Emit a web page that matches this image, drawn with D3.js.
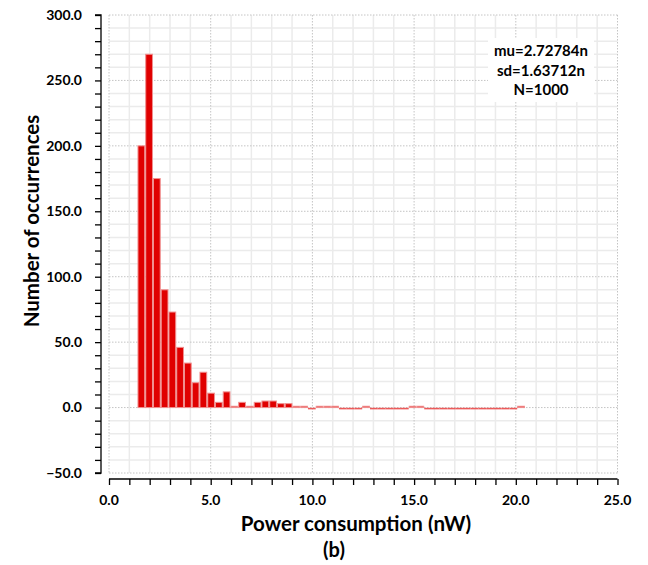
<!DOCTYPE html>
<html>
<head>
<meta charset="utf-8">
<script src="https://cdn.jsdelivr.net/npm/d3@7"></script>
<style>
  html, body { margin: 0; padding: 0; background: #fff; }
  svg { display: block; }
  text { font-family: Lato, "Open Sans", sans-serif; font-weight: 700; fill: #000; }
</style>
</head>
<body>
<svg id="chart" width="648" height="565"></svg>
<script>
// ---- data ----
const binMin = 1.40;     // nW, left edge of first bin
const binMax = 20.45;    // nW, right edge of last bin
const counts = [200, 270, 175, 90, 73, 46, 34, 19, 27, 11,
                4, 12, 1, 4, 1, 4, 5, 5, 3, 3,
                1, 1, 0, 1, 1, 1, 0, 0, 0, 1,
                0, 0, 0, 0, 0, 1, 1, 0, 0, 0,
                0, 0, 0, 0, 0, 0, 0, 0, 0, 1];
const xTicks = [0, 5, 10, 15, 20, 25];
const yTicks = [-50, 0, 50, 100, 150, 200, 250, 300];
const statsLines = ["mu=2.72784n", "sd=1.63712n", "N=1000"];
const xTitle = "Power consumption (nW)";
const yTitle = "Number of occurrences";
const caption = "(b)";

// ---- layout ----
const svg = d3.select("#chart");
const plot = { left: 109, right: 617.5, top: 15, bottom: 473 };
const x = d3.scaleLinear().domain([0, 25]).range([plot.left, plot.right]);
const y = d3.scaleLinear().domain([-50, 300]).range([plot.bottom, plot.top]);

const binW = (binMax - binMin) / counts.length;
const bins = counts.map((c, i) => ({ x0: binMin + i * binW, x1: binMin + (i + 1) * binW, c }));

// grid
const g = svg.append("g");
const minorX = d3.range(0, 25.001, 1).filter(v => v % 5 !== 0);
const minorY = d3.range(-50, 300.001, 10).filter(v => v % 50 !== 0);
g.selectAll(".mx").data(minorX).join("line")
  .attr("x1", d => x(d)).attr("x2", d => x(d))
  .attr("y1", plot.top).attr("y2", plot.bottom)
  .attr("stroke", "#ebebeb").attr("stroke-width", 1.5);
g.selectAll(".my").data(minorY).join("line")
  .attr("y1", d => y(d)).attr("y2", d => y(d))
  .attr("x1", plot.left).attr("x2", plot.right)
  .attr("stroke", "#ebebeb").attr("stroke-width", 1.5);
g.selectAll(".MX").data(d3.range(0, 25.001, 5)).join("line")
  .attr("x1", d => x(d)).attr("x2", d => x(d))
  .attr("y1", plot.top).attr("y2", plot.bottom)
  .attr("stroke", "#c4c4c4").attr("stroke-width", 1).attr("stroke-dasharray", "1.5,1.5");
g.selectAll(".MY").data(yTicks).join("line")
  .attr("y1", d => y(d)).attr("y2", d => y(d))
  .attr("x1", plot.left).attr("x2", plot.right)
  .attr("stroke", "#c4c4c4").attr("stroke-width", 1).attr("stroke-dasharray", "1.5,1.5");

// bars
const barG = svg.append("g");
barG.selectAll("rect").data(bins.filter(d => d.c > 0)).join("rect")
  .attr("x", d => x(d.x0) + 0.5)
  .attr("width", d => x(d.x1) - x(d.x0) - 1)
  .attr("y", d => y(d.c))
  .attr("height", d => y(0) - y(d.c))
  .attr("fill", "#e00000")
  .attr("stroke", "#f09090")
  .attr("stroke-width", 1);
// empty bins show only their outline on the baseline
barG.selectAll("line").data(bins.filter(d => d.c === 0)).join("line")
  .attr("x1", d => x(d.x0)).attr("x2", d => x(d.x1))
  .attr("y1", y(0) + 1).attr("y2", y(0) + 1)
  .attr("stroke", "#ec5a5a").attr("stroke-width", 1.6);

// stats box
const boxCx = 541;
svg.append("rect").attr("x", 488).attr("y", 38).attr("width", 106).attr("height", 64).attr("fill", "#fff");
svg.append("g").selectAll("text").data(statsLines).join("text")
  .attr("x", boxCx).attr("y", (d, i) => 56 + i * 19.5)
  .attr("text-anchor", "middle").attr("font-size", 15)
  .text(d => d);

// y axis
const yAxis = d3.axisLeft(y).tickValues(d3.range(-50, 300.001, 10)).tickSize(6).tickFormat("");
const ya = svg.append("g").attr("transform", "translate(101,0)").call(yAxis);
ya.selectAll("path, line").attr("stroke", "#000").attr("stroke-width", 1.3);
ya.select(".domain").attr("d", `M-6,${y(300)}H0V${y(-50)}H-6`);
svg.append("g").selectAll("text").data(yTicks).join("text")
  .attr("x", 82).attr("y", d => y(d)).attr("dy", "0.35em")
  .attr("text-anchor", "end").attr("font-size", 14)
  .text(d => d3.format(".1f")(d));

// x axis
const xAxis = d3.axisBottom(x).tickValues(d3.range(0, 25.001, 1)).tickSize(6).tickFormat("");
const xa = svg.append("g").attr("transform", "translate(0,479)").call(xAxis);
xa.selectAll("path, line").attr("stroke", "#000").attr("stroke-width", 1.3);
xa.select(".domain").attr("d", `M${x(0)},0H${x(25)}`);
svg.append("g").selectAll("text").data(xTicks).join("text")
  .attr("x", d => x(d)).attr("y", 505)
  .attr("text-anchor", "middle").attr("font-size", 14)
  .text(d => d3.format(".1f")(d));

// titles
svg.append("text").attr("x", 356).attr("y", 531).attr("text-anchor", "middle")
  .attr("font-size", 20.5).text(xTitle);
svg.append("text").attr("x", 334).attr("y", 557).attr("text-anchor", "middle")
  .attr("font-size", 20).text(caption);
svg.append("text").attr("transform", "translate(39,221) rotate(-90)")
  .attr("text-anchor", "middle").attr("font-size", 20.5).text(yTitle);
</script>
</body>
</html>
